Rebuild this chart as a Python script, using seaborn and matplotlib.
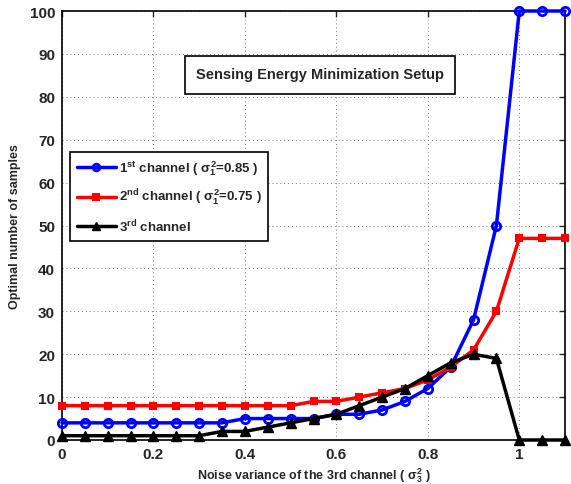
import numpy as np
import pandas as pd
import matplotlib
matplotlib.use("Agg")
import matplotlib.pyplot as plt
import seaborn as sns
from matplotlib.patches import Rectangle

x_vals = [0.0, 0.05, 0.1, 0.15, 0.2, 0.25, 0.3, 0.35, 0.4, 0.45, 0.5, 0.55,
          0.6, 0.65, 0.7, 0.75, 0.8, 0.85, 0.9, 0.95, 1.0, 1.05, 1.1]
ch1 = [4, 4, 4, 4, 4, 4, 4, 4, 5, 5, 5, 5, 6, 6, 7, 9, 12, 17, 28, 50, 100, 100, 100]
ch2 = [8, 8, 8, 8, 8, 8, 8, 8, 8, 8, 8, 9, 9, 10, 11, 12, 14, 17, 21, 30, 47, 47, 47]
ch3 = [1, 1, 1, 1, 1, 1, 1, 2, 2, 3, 4, 5, 6, 8, 10, 12, 15, 18, 20, 19, 0, 0, 0]
labels = [r"1$^{\mathregular{st}}$ channel ( $\sigma_1^2$=0.85 )",
          r"2$^{\mathregular{nd}}$ channel ( $\sigma_1^2$=0.75 )",
          r"3$^{\mathregular{rd}}$ channel"]
x_ticks = [0, 0.2, 0.4, 0.6, 0.8, 1]
y_ticks = list(range(0, 101, 10))

sns.set_style("white")
plt.rcParams['font.family'] = ['Liberation Sans', 'DejaVu Sans']
plt.rcParams['font.weight'] = 'bold'
plt.rcParams['mathtext.fontset'] = 'custom'
plt.rcParams['mathtext.rm'] = 'Liberation Sans:bold'
plt.rcParams['mathtext.it'] = 'Liberation Sans:bold'
plt.rcParams['mathtext.bf'] = 'Liberation Sans:bold'

fig = plt.figure(figsize=(5.71, 4.85), dpi=100)
ax = fig.add_axes([62/571, 1 - 441/485, 503/571, 429/485])

styles = [
    dict(color='#0000ff', marker='o', mfc='none', mec='#0000ff', ms=6, mew=2),
    dict(color='#ff0000', marker='s', mfc='#ff0000', mec='#ff0000', ms=5, mew=1.5),
    dict(color='#000000', marker='^', mfc='#000000', mec='#000000', ms=7, mew=1),
]
for ys, lab, st in zip([ch1, ch2, ch3], labels, styles):
    df = pd.DataFrame({'x': x_vals, 'y': ys})
    sns.lineplot(data=df, x='x', y='y', ax=ax, label=lab, lw=2.5,
                 color=st['color'], marker=st['marker'], markerfacecolor=st['mfc'],
                 markeredgecolor=st['mec'], markersize=st['ms'], markeredgewidth=st['mew'],
                 clip_on=False, zorder=3)

ax.set_xlim(0, 1.1)
ax.set_ylim(0, 100)
ax.set_xticks(x_ticks)
ax.set_xticklabels([f"{t:g}" for t in x_ticks])
ax.set_yticks(y_ticks)
ax.grid(True, linestyle=(0, (1, 3)), color='#777777', lw=0.7)
ax.tick_params(direction='in', length=4, labelsize=11, width=1, top=True, right=True,
               labeltop=False, labelright=False, pad=5)
for lbl in ax.get_xticklabels() + ax.get_yticklabels():
    lbl.set_fontweight('bold')
for s in ax.spines.values():
    s.set_visible(True)
    s.set_color('black')
    s.set_linewidth(1.2)

ax.set_xlabel(r"Noise variance of the 3rd channel ( $\sigma_3^2$ )", fontsize=9, fontweight='bold', labelpad=3)
ax.set_ylabel("Optimal number of samples", fontsize=9, fontweight='bold', labelpad=6)

leg = ax.legend(loc='upper left', bbox_to_anchor=(0.016, 0.671), fontsize=9.5,
                frameon=True, fancybox=False, edgecolor='black', framealpha=1,
                handlelength=3.0, handletextpad=0.2, borderpad=0.5, labelspacing=0.75,
                borderaxespad=0, markerscale=0.8)
leg.get_frame().set_linewidth(1.2)
for t in leg.get_texts():
    t.set_fontweight('bold')

ax.add_patch(Rectangle((0.2445, 0.8065), 0.5365, 0.0885, transform=ax.transAxes,
                       facecolor='white', edgecolor='black', lw=1.2, zorder=4))
ax.text(0.513, 0.853, "Sensing Energy Minimization Setup", transform=ax.transAxes,
        ha='center', va='center', fontsize=10.5, fontweight='bold', zorder=5)

fig.savefig("out.png", dpi=100)
